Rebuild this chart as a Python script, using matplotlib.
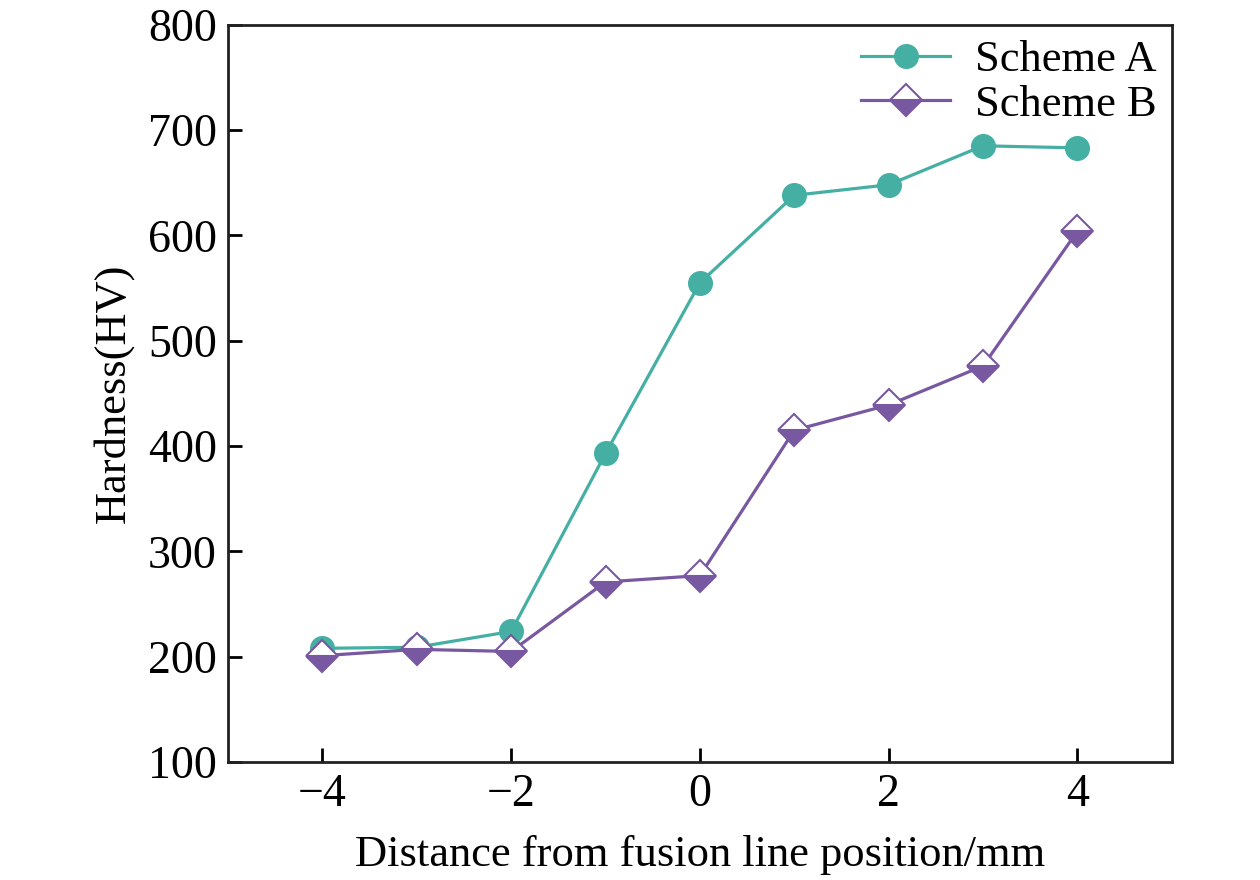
import matplotlib.pyplot as plt

plt.rcParams['font.family'] = ['Liberation Serif', 'DejaVu Serif']

distance = [-4, -3, -2, -1, 0, 1, 2, 3, 4]
scheme_a = [208, 209, 224, 393, 555, 638, 648, 685, 683]
scheme_b = [201, 207, 205, 271, 277, 415, 439, 476, 604]

teal = '#45afa4'
purple = '#7858a0'

fig = plt.figure(figsize=(12.6, 8.8), dpi=100)
ax = fig.add_axes([0.181, 0.134, 0.749, 0.838])

ax.plot(distance, scheme_a, color=teal, lw=2.3, marker='o', ms=17,
        markerfacecolor=teal, markeredgecolor=teal, label='Scheme A')
ax.plot(distance, scheme_b, color=purple, lw=2.3, marker='D', ms=16,
        fillstyle='bottom', markerfacecolor=purple, markerfacecoloralt='white',
        markeredgecolor=purple, markeredgewidth=1.5, label='Scheme B')

ax.set_xlim(-5, 5)
ax.set_ylim(100, 800)
ax.set_xticks([-4, -2, 0, 2, 4])
ax.set_xticklabels(['\u22124', '\u22122', '0', '2', '4'])
ax.set_yticks(range(100, 801, 100))
ax.tick_params(direction='in', length=10, width=2, labelsize=33, pad=8)
for s in ax.spines.values():
    s.set_linewidth(2)
    s.set_color('#222222')

ax.set_xlabel('Distance from fusion line position/mm', fontsize=32, labelpad=14)
ax.set_ylabel('Hardness(HV)', fontsize=32, labelpad=10)

ax.legend(loc='upper right', fontsize=32, frameon=False, handlelength=2.0,
          borderaxespad=0.15, labelspacing=0.1, handletextpad=0.55,
          borderpad=0.2)

fig.savefig('out.png', dpi=100)
